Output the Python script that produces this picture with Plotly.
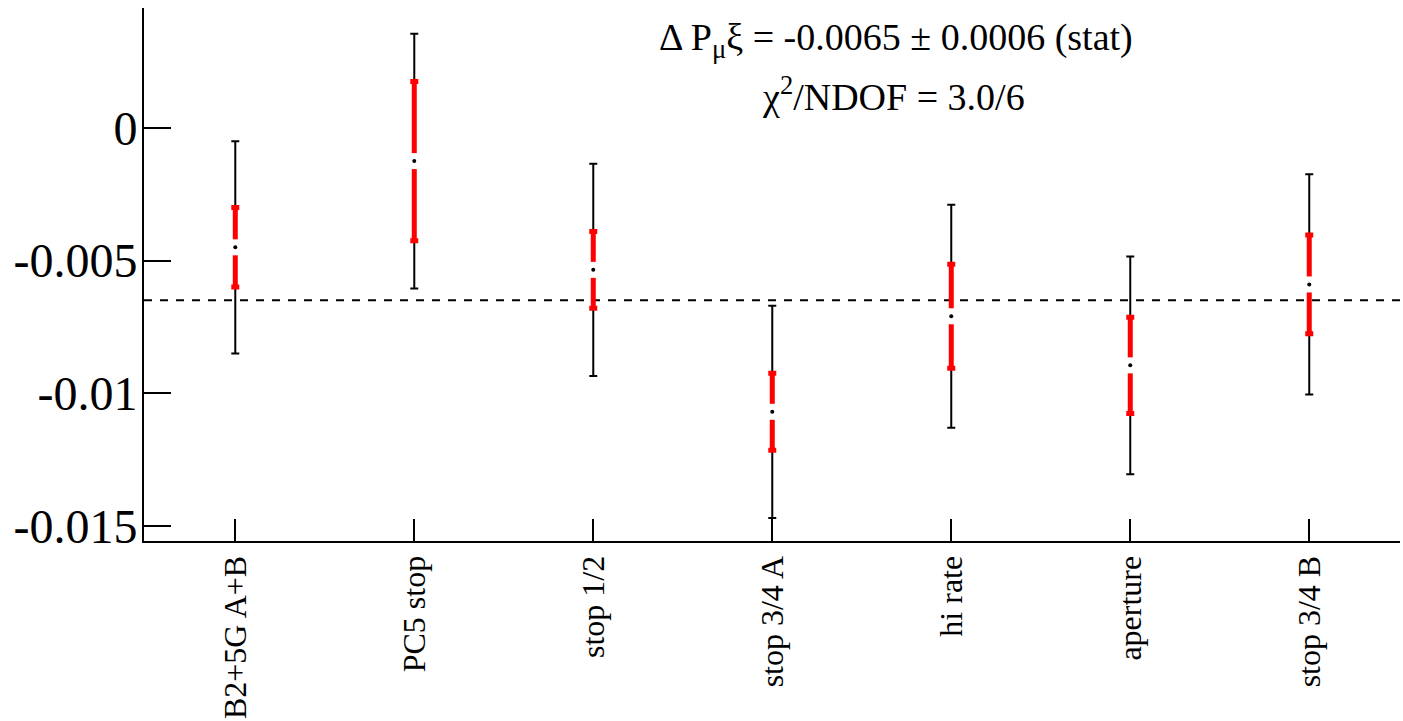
import plotly.graph_objects as go

categories = ["B2+5G A+B", "PC5 stop", "stop 1/2", "stop 3/4 A", "hi rate", "aperture", "stop 3/4 B"]
values = [-0.0045, -0.00125, -0.00535, -0.0107, -0.0071, -0.00895, -0.0059]
stat_err = [0.0015, 0.0030, 0.00145, 0.00145, 0.00196, 0.00181, 0.00186]
total_err = [0.0040, 0.0048, 0.0040, 0.0040, 0.0042, 0.0041, 0.00415]
mean_value = -0.0065
y_tickvals = [0, -0.005, -0.01, -0.015]
y_ticktext = ["0", "-0.005", "-0.01", "-0.015"]

xpos = list(range(1, len(categories) + 1))
FONT = "Liberation Serif"

fig = go.Figure()

# total (black thin) error bars
fig.add_trace(go.Scatter(
    x=xpos, y=values, mode="markers",
    marker=dict(size=1, color="rgba(0,0,0,0)"),
    error_y=dict(type="data", array=total_err, visible=True, color="black", thickness=2, width=4),
    hoverinfo="skip", showlegend=False))

# stat (red thick) error bars
fig.add_trace(go.Scatter(
    x=xpos, y=values, mode="markers",
    marker=dict(size=1, color="rgba(0,0,0,0)"),
    error_y=dict(type="data", array=stat_err, visible=True, color="red", thickness=5, width=4),
    hoverinfo="skip", showlegend=False))

# white gap around the central value
fig.add_trace(go.Scatter(
    x=xpos, y=values, mode="markers",
    marker=dict(symbol="square", size=16, color="white", line=dict(width=0)),
    hoverinfo="skip", showlegend=False))

# central dot
fig.add_trace(go.Scatter(
    x=xpos, y=values, mode="markers",
    marker=dict(symbol="circle", size=4, color="black", line=dict(width=0)),
    showlegend=False))

fig.add_shape(type="line", xref="paper", yref="y", x0=0, x1=1, y0=mean_value, y1=mean_value,
              line=dict(color="black", width=2, dash="8px,8px"), layer="below")

W, H = 1403, 721
L, R, T, B = 144, 3, 8, 180
ph = H - T - B

def ypaper(pix):
    return (H - B - pix) / ph

fig.add_annotation(xref="paper", yref="paper", x=(896 - L) / (W - L - R), y=ypaper(40),
                   text="Δ P<sub>μ</sub>ξ = -0.0065 ± 0.0006 (stat)", showarrow=False,
                   xanchor="center", yanchor="middle",
                   font=dict(family=FONT, size=38, color="black"))
fig.add_annotation(xref="paper", yref="paper", x=(893 - L) / (W - L - R), y=ypaper(94),
                   text="χ<sup>2</sup>/NDOF = 3.0/6", showarrow=False,
                   xanchor="center", yanchor="middle",
                   font=dict(family=FONT, size=38, color="black"))

fig.update_layout(
    width=W, height=H,
    margin=dict(l=L, r=R, t=T, b=B),
    paper_bgcolor="white", plot_bgcolor="white",
    font=dict(family=FONT, color="black"),
    xaxis=dict(range=[0.49, 7.507], tickmode="array", tickvals=xpos, ticktext=categories,
               tickangle=-90, ticks="inside", ticklen=22, tickwidth=2, tickcolor="black",
               showline=True, linecolor="black", linewidth=2, showgrid=False, zeroline=False,
               tickfont=dict(family=FONT, size=32, color="black")),
    yaxis=dict(range=[-0.01557, 0.00452], tickmode="array", tickvals=y_tickvals, ticktext=y_ticktext,
               ticks="inside", ticklen=27, tickwidth=2, tickcolor="black",
               showline=True, linecolor="black", linewidth=2, showgrid=False, zeroline=False,
               ticklabelstandoff=-5,
               tickfont=dict(family=FONT, size=48, color="black")),
)

fig.write_html("out.html")
